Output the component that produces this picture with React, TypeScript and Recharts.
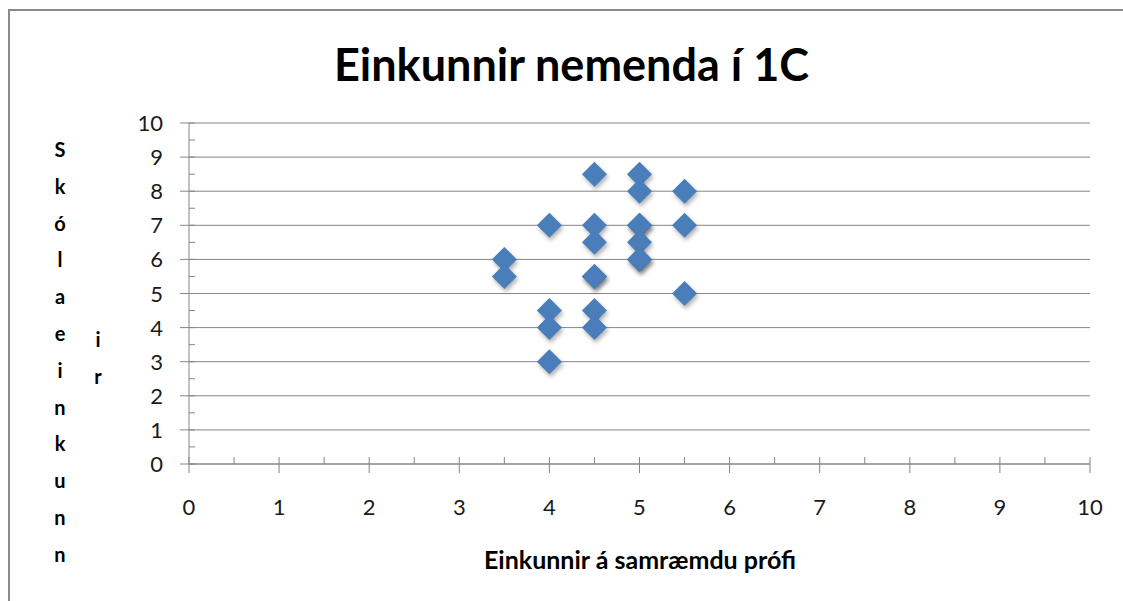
import { CartesianGrid, Scatter, ScatterChart, XAxis, YAxis } from "recharts";

// samræmt próf (x) og skólaeinkunn (y)
const samraemd = [4.5, 5, 5, 5.5, 4, 4.5, 5, 5, 5.5, 4.5, 5, 5, 5, 3.5, 3.5, 4.5, 4.5, 5.5, 4, 4.5, 4, 4.5, 4];
const skola = [8.5, 8.5, 8, 8, 7, 7, 7, 7, 7, 6.5, 6.5, 6, 6, 6, 5.5, 5.5, 5.5, 5, 4.5, 4.5, 4, 4, 3];

const majorTicks = [0, 1, 2, 3, 4, 5, 6, 7, 8, 9, 10];
const allTicks = [0, 0.5, 1, 1.5, 2, 2.5, 3, 3.5, 4, 4.5, 5, 5.5, 6, 6.5, 7, 7.5, 8, 8.5, 9, 9.5, 10];

const yLabelCol1 = ["S", "k", "ó", "l", "a", "e", "i", "n", "k", "u", "n", "n"];
const yLabelCol2 = ["i", "r"];

const data = samraemd.map((x, i) => ({ x, y: skola[i] }));

const AXIS = "#868686";
const FONT = "Lato, 'Open Sans', sans-serif";

function XTick(props: any) {
  const { x, y, payload } = props;
  const major = Number.isInteger(payload.value);
  return (
    <g>
      <line x1={x} x2={x} y1={y - 7} y2={major ? y + 9 : y} stroke={AXIS} strokeWidth={1} />
      {major && (
        <text x={x} y={y + 51} textAnchor="middle" fontSize={22} fill="#1a1a1a" fontFamily={FONT}>
          {payload.value}
        </text>
      )}
    </g>
  );
}

function YTick(props: any) {
  const { x, y, payload } = props;
  const major = Number.isInteger(payload.value);
  return (
    <g>
      <line x1={major ? x - 9 : x} x2={x + 6} y1={y} y2={y} stroke={AXIS} strokeWidth={1} />
      {major && (
        <text x={x - 26} y={y + 8} textAnchor="end" fontSize={22} fill="#1a1a1a" fontFamily={FONT}>
          {payload.value}
        </text>
      )}
    </g>
  );
}

function Diamond(props: any) {
  const { cx, cy } = props;
  const r = 12.5;
  const pts = `${cx},${cy - r} ${cx + r},${cy} ${cx},${cy + r} ${cx - r},${cy}`;
  const sh = `${cx + 1.5},${cy - r + 3} ${cx + r + 1.5},${cy + 3} ${cx + 1.5},${cy + r + 3} ${cx - r + 1.5},${cy + 3}`;
  return (
    <g>
      <defs>
        <filter id="skuggi" x="-50%" y="-50%" width="200%" height="200%">
          <feGaussianBlur stdDeviation="2" />
        </filter>
      </defs>
      <polygon points={sh} fill="rgba(0,0,0,0.3)" filter="url(#skuggi)" />
      <polygon points={pts} fill="#4A7EBB" />
    </g>
  );
}

export default function App() {
  return (
    <div style={{ position: "absolute", left: 0, top: 0, width: 1123, height: 601, background: "#fff", overflow: "hidden", fontFamily: FONT }}>
      <div
        style={{
          position: "absolute",
          left: 8,
          top: 9,
          width: 1200,
          height: 700,
          borderTop: "2px solid #8a8a8a",
          borderLeft: "2px solid #8a8a8a",
        }}
      />
      <div
        style={{
          position: "absolute",
          left: 0,
          width: 1143,
          top: 37,
          textAlign: "center",
          fontSize: 45,
          fontWeight: 700,
          color: "#000",
        }}
      >
        Einkunnir nemenda í 1C
      </div>
      {yLabelCol1.map((c, i) => (
        <div
          key={"a" + i}
          style={{ position: "absolute", left: 50, width: 20, textAlign: "center", top: 137 + i * 36.8, fontSize: 20, fontWeight: 700 }}
        >
          {c}
        </div>
      ))}
      {yLabelCol2.map((c, i) => (
        <div
          key={"b" + i}
          style={{ position: "absolute", left: 88, width: 20, textAlign: "center", top: 327 + i * 36.8, fontSize: 20, fontWeight: 700 }}
        >
          {c}
        </div>
      ))}
      <div
        style={{ position: "absolute", left: 340, width: 600, top: 544, textAlign: "center", fontSize: 25, fontWeight: 700 }}
      >
        Einkunnir á samræmdu prófi
      </div>
      <div style={{ position: "absolute", left: 0, top: 0 }}>
        <ScatterChart width={1123} height={601} margin={{ top: 123, right: 33, bottom: 77, left: 129 }}>
          <CartesianGrid
            vertical={false}
            horizontalValues={majorTicks}
            stroke={AXIS}
            strokeWidth={1}
          />
          <XAxis
            type="number"
            dataKey="x"
            domain={[0, 10]}
            ticks={allTicks}
            interval={0}
            height={60}
            tickSize={0}
            tickMargin={0}
            stroke={AXIS}
            tickLine={false}
            tick={<XTick />}
          />
          <YAxis
            type="number"
            dataKey="y"
            domain={[0, 10]}
            ticks={allTicks}
            interval={0}
            width={60}
            tickSize={0}
            tickMargin={0}
            stroke={AXIS}
            tickLine={false}
            tick={<YTick />}
          />
          <Scatter data={data} shape={<Diamond />} isAnimationActive={false} />
        </ScatterChart>
      </div>
    </div>
  );
}
